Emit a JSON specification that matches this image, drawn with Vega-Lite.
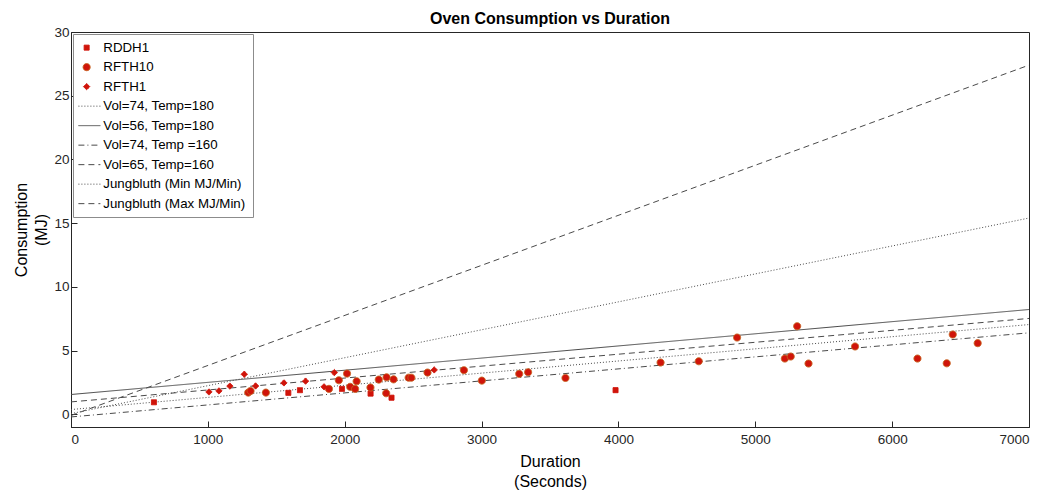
{
  "$schema": "https://vega.github.io/schema/vega-lite/v6.json",
  "width": 958,
  "height": 395,
  "autosize": {"type": "none"},
  "padding": {"left": 71, "top": 32, "right": 17, "bottom": 63},
  "background": "white",
  "config": {
    "font": "Liberation Sans",
    "view": {"stroke": "#262626", "strokeWidth": 1},
    "legend": {
      "title": null, "orient": "top-left", "offset": 2,
      "labelFontSize": 13.3, "labelColor": "#000000", "labelFont": "Liberation Sans",
      "symbolStrokeWidth": 1, "symbolOpacity": 1, "rowPadding": 5.5, "padding": 7, "labelOffset": 10,
      "strokeColor": "#8c8c8c", "fillColor": "#ffffff", "cornerRadius": 0
    }
  },
  "title": {"text": "Oven Consumption vs Duration", "fontSize": 16, "fontWeight": "bold", "color": "#000000", "anchor": "middle", "offset": 7, "baseline": "bottom", "dy": 25},
  "datasets": {
    "lines": [
      {"series": "Vol=74, Temp=180", "duration": 0, "consumption": 0.37},
      {"series": "Vol=74, Temp=180", "duration": 7000, "consumption": 7.04},
      {"series": "Vol=56, Temp=180", "duration": 0, "consumption": 1.55},
      {"series": "Vol=56, Temp=180", "duration": 7000, "consumption": 8.22},
      {"series": "Vol=74, Temp =160", "duration": 0, "consumption": -0.21},
      {"series": "Vol=74, Temp =160", "duration": 7000, "consumption": 6.39},
      {"series": "Vol=65, Temp=160", "duration": 0, "consumption": 0.97},
      {"series": "Vol=65, Temp=160", "duration": 7000, "consumption": 7.52},
      {"series": "Jungbluth (Min MJ/Min)", "duration": 0, "consumption": 0.05},
      {"series": "Jungbluth (Min MJ/Min)", "duration": 7000, "consumption": 15.4},
      {"series": "Jungbluth (Max MJ/Min)", "duration": 0, "consumption": -0.1},
      {"series": "Jungbluth (Max MJ/Min)", "duration": 7000, "consumption": 27.4}
    ],
    "points": [
      {"series": "RDD_H1", "duration": 606, "consumption": 0.94},
      {"series": "RDD_H1", "duration": 1588, "consumption": 1.68},
      {"series": "RDD_H1", "duration": 1673, "consumption": 1.89},
      {"series": "RDD_H1", "duration": 1980, "consumption": 1.99},
      {"series": "RDD_H1", "duration": 2189, "consumption": 1.62},
      {"series": "RDD_H1", "duration": 2342, "consumption": 1.3},
      {"series": "RDD_H1", "duration": 3979, "consumption": 1.89},
      {"series": "RFT_H10", "duration": 1295, "consumption": 1.7},
      {"series": "RFT_H10", "duration": 1312, "consumption": 1.83},
      {"series": "RFT_H10", "duration": 1424, "consumption": 1.7},
      {"series": "RFT_H10", "duration": 1885, "consumption": 1.99},
      {"series": "RFT_H10", "duration": 1957, "consumption": 2.67},
      {"series": "RFT_H10", "duration": 2017, "consumption": 3.19},
      {"series": "RFT_H10", "duration": 2040, "consumption": 2.15},
      {"series": "RFT_H10", "duration": 2076, "consumption": 1.99},
      {"series": "RFT_H10", "duration": 2087, "consumption": 2.59},
      {"series": "RFT_H10", "duration": 2188, "consumption": 2.1},
      {"series": "RFT_H10", "duration": 2249, "consumption": 2.72},
      {"series": "RFT_H10", "duration": 2306, "consumption": 2.9},
      {"series": "RFT_H10", "duration": 2303, "consumption": 1.65},
      {"series": "RFT_H10", "duration": 2357, "consumption": 2.74},
      {"series": "RFT_H10", "duration": 2467, "consumption": 2.87},
      {"series": "RFT_H10", "duration": 2487, "consumption": 2.87},
      {"series": "RFT_H10", "duration": 2605, "consumption": 3.27},
      {"series": "RFT_H10", "duration": 2871, "consumption": 3.46},
      {"series": "RFT_H10", "duration": 3002, "consumption": 2.64},
      {"series": "RFT_H10", "duration": 3275, "consumption": 3.17},
      {"series": "RFT_H10", "duration": 3340, "consumption": 3.3},
      {"series": "RFT_H10", "duration": 3613, "consumption": 2.85},
      {"series": "RFT_H10", "duration": 4308, "consumption": 4.06},
      {"series": "RFT_H10", "duration": 4587, "consumption": 4.16},
      {"series": "RFT_H10", "duration": 4867, "consumption": 6.02},
      {"series": "RFT_H10", "duration": 5216, "consumption": 4.37},
      {"series": "RFT_H10", "duration": 5259, "consumption": 4.53},
      {"series": "RFT_H10", "duration": 5306, "consumption": 6.91},
      {"series": "RFT_H10", "duration": 5389, "consumption": 3.98},
      {"series": "RFT_H10", "duration": 5729, "consumption": 5.32},
      {"series": "RFT_H10", "duration": 6185, "consumption": 4.37},
      {"series": "RFT_H10", "duration": 6399, "consumption": 4.0},
      {"series": "RFT_H10", "duration": 6443, "consumption": 6.26},
      {"series": "RFT_H10", "duration": 6625, "consumption": 5.58},
      {"series": "RFT_H1", "duration": 1008, "consumption": 1.75},
      {"series": "RFT_H1", "duration": 1081, "consumption": 1.83},
      {"series": "RFT_H1", "duration": 1161, "consumption": 2.21},
      {"series": "RFT_H1", "duration": 1266, "consumption": 3.14},
      {"series": "RFT_H1", "duration": 1349, "consumption": 2.22},
      {"series": "RFT_H1", "duration": 1556, "consumption": 2.46},
      {"series": "RFT_H1", "duration": 1714, "consumption": 2.6},
      {"series": "RFT_H1", "duration": 1849, "consumption": 2.15},
      {"series": "RFT_H1", "duration": 1924, "consumption": 3.27},
      {"series": "RFT_H1", "duration": 2654, "consumption": 3.48}
    ]
  },
  "layer": [
    {
      "data": {"name": "lines"},
      "mark": {"type": "line", "strokeWidth": 1, "clip": true},
      "encoding": {
        "x": {"field": "duration", "type": "quantitative", "scale": {"domain": [0, 7000], "nice": false},
          "axis": {"values": [0, 1000, 2000, 3000, 4000, 5000, 6000, 7000], "format": "d", "title": ["Duration", "(Seconds)"], "titleFontSize": 16, "titleFontWeight": "normal", "titleColor": "#000000", "titleLineHeight": 20, "titlePadding": 8, "labelFontSize": 13.5, "labelColor": "#262626", "tickSize": -6, "tickColor": "#262626", "domainColor": "#262626", "grid": false, "labelPadding": 11}},
        "y": {"field": "consumption", "type": "quantitative", "scale": {"domain": [-1, 30], "nice": false},
          "axis": {"values": [0, 5, 10, 15, 20, 25, 30], "title": ["Consumption", "(MJ)"], "titleFontSize": 16, "titleFontWeight": "normal", "titleColor": "#000000", "titleLineHeight": 20, "titlePadding": 4, "labelFontSize": 13.5, "labelColor": "#262626", "tickSize": -6, "tickColor": "#262626", "domainColor": "#262626", "grid": false, "labelPadding": 8}},
        "stroke": {"field": "series", "type": "nominal",
          "scale": {"domain": ["RDD_H1", "RFT_H10", "RFT_H1", "Vol=74, Temp=180", "Vol=56, Temp=180", "Vol=74, Temp =160", "Vol=65, Temp=160", "Jungbluth (Min MJ/Min)", "Jungbluth (Max MJ/Min)"],
                    "range": ["#d0140a", "#c8641e", "#d0140a", "#4a4a4a", "#4a4a4a", "#4a4a4a", "#4a4a4a", "#4a4a4a", "#4a4a4a"]},
          "legend": {"title": null, "labelExpr": "replace(datum.label, '_', '')"}},
        "strokeDash": {"field": "series", "type": "nominal",
          "scale": {"domain": ["RDD_H1", "RFT_H10", "RFT_H1", "Vol=74, Temp=180", "Vol=56, Temp=180", "Vol=74, Temp =160", "Vol=65, Temp=160", "Jungbluth (Min MJ/Min)", "Jungbluth (Max MJ/Min)"],
                    "range": [[1, 0], [1, 0], [1, 0], [1, 2], [1, 0], [6, 3, 1, 3], [6, 4], [1, 2], [6, 4]]},
          "legend": {"title": null, "labelExpr": "replace(datum.label, '_', '')"}}
      }
    },
    {
      "data": {"name": "points"},
      "mark": {"type": "point", "filled": true, "opacity": 1, "strokeWidth": 1},
      "encoding": {
        "x": {"field": "duration", "type": "quantitative"},
        "y": {"field": "consumption", "type": "quantitative"},
        "shape": {"field": "series", "type": "nominal",
          "scale": {"domain": ["RDD_H1", "RFT_H10", "RFT_H1", "Vol=74, Temp=180", "Vol=56, Temp=180", "Vol=74, Temp =160", "Vol=65, Temp=160", "Jungbluth (Min MJ/Min)", "Jungbluth (Max MJ/Min)"],
                    "range": ["square", "circle", "diamond", "M-1.5,0H2.5", "M-1.5,0H2.5", "M-1.5,0H2.5", "M-1.5,0H2.5", "M-1.5,0H2.5", "M-1.5,0H2.5"]},
          "legend": {"title": null, "labelExpr": "replace(datum.label, '_', '')"}},
        "fill": {"field": "series", "type": "nominal",
          "scale": {"domain": ["RDD_H1", "RFT_H10", "RFT_H1", "Vol=74, Temp=180", "Vol=56, Temp=180", "Vol=74, Temp =160", "Vol=65, Temp=160", "Jungbluth (Min MJ/Min)", "Jungbluth (Max MJ/Min)"],
                    "range": ["#d0140a", "#d0140a", "#d0140a", "transparent", "transparent", "transparent", "transparent", "transparent", "transparent"]},
          "legend": {"title": null, "labelExpr": "replace(datum.label, '_', '')"}},
        "stroke": {"field": "series", "type": "nominal", "legend": {"title": null, "labelExpr": "replace(datum.label, '_', '')"}},
        "strokeDash": {"field": "series", "type": "nominal", "legend": {"title": null, "labelExpr": "replace(datum.label, '_', '')"}},
        "size": {"field": "series", "type": "nominal",
          "scale": {"type": "ordinal", "domain": ["RDD_H1", "RFT_H10", "RFT_H1", "Vol=74, Temp=180", "Vol=56, Temp=180", "Vol=74, Temp =160", "Vol=65, Temp=160", "Jungbluth (Min MJ/Min)", "Jungbluth (Max MJ/Min)"],
                    "range": [25, 50, 40, 121, 121, 121, 121, 121, 121]},
          "legend": {"title": null, "labelExpr": "replace(datum.label, '_', '')"}}
      }
    }
  ]
}
